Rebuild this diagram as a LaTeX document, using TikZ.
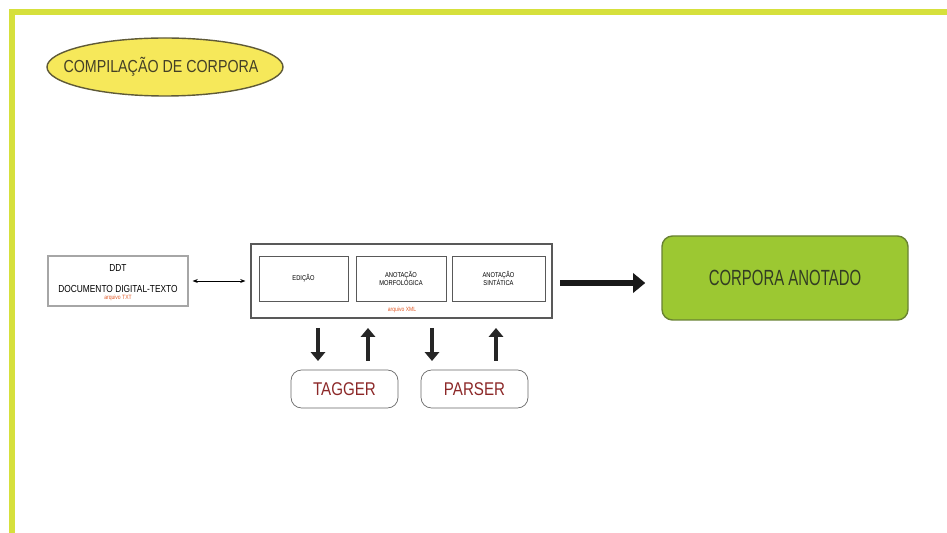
\documentclass[tikz,border=0pt]{standalone}
\usepackage{fontspec}
\setmainfont{Liberation Sans}[FakeStretch=0.82]
\newfontfamily\estreita{Liberation Sans}[FakeStretch=0.68]
\usetikzlibrary{arrows.meta}
\definecolor{framey}{RGB}{214,224,60}
\definecolor{ovaly}{RGB}{246,232,90}
\definecolor{ovalb}{RGB}{95,90,55}
\definecolor{greenbox}{RGB}{156,200,50}
\definecolor{greenb}{RGB}{105,130,50}
\definecolor{greentxt}{RGB}{50,60,35}
\definecolor{redtxt}{RGB}{140,40,40}
\definecolor{orangetxt}{RGB}{225,90,40}
\begin{document}
\begin{tikzpicture}[x=0.02cm,y=-0.02cm,
  box/.style={draw=black!65, line width=0.5pt, minimum height=45*0.02cm, align=center, font=\fontsize{4}{5}\selectfont},
  tool/.style={draw=black!60, rounded corners=6pt, minimum width=107*0.02cm, minimum height=38*0.02cm, text=redtxt, font=\fontsize{10.5}{12}\selectfont},
  fat/.style={line width=2.3pt, -{Triangle[length=5pt,width=8pt]}}]
\useasboundingbox (0,0) rectangle (947,533);
\draw[framey, line width=3pt] (12,560) -- (12,12) -- (960,12);
\draw[draw=ovalb, line width=0.8pt, fill=ovaly] (165,67) ellipse [x radius=118, y radius=29];
\node[text=ovalb!70!black, font=\fontsize{9.9}{11}\selectfont] (titulo) at (161,67) {COMPILAÇÃO DE CORPORA};

\node[draw=black!35, line width=0.6pt, minimum width=140*0.02cm, minimum height=50*0.02cm] (ddt) at (118,281) {};
\node[font=\fontsize{5.8}{6}\selectfont] (ddtsig) at (118,268) {DDT};
\node[font=\fontsize{5.8}{6}\selectfont] (ddtnome) at (118,289) {DOCUMENTO DIGITAL-TEXTO};
\node[font=\fontsize{3.5}{4}\selectfont, text=orangetxt] (txt) at (118,298) {arquivo TXT};

\node[draw=black!65, line width=0.6pt, minimum width=301*0.02cm, minimum height=74*0.02cm] (xml) at (401.5,281) {};
\node[box, minimum width=89*0.02cm] (edicao) at (303.5,278.5) {EDIÇÃO};
\node[box, minimum width=90*0.02cm] (morfo) at (401,278.5) {ANOTAÇÃO\\MORFOLÓGICA};
\node[box, minimum width=93*0.02cm] (sint) at (498.5,278.5) {ANOTAÇÃO\\SINTÁTICA};
\node[font=\fontsize{3.5}{4}\selectfont, text=orangetxt] (xmltxt) at (402,309.5) {arquivo XML};

\node[draw=greenb, line width=0.8pt, fill=greenbox, rounded corners=6pt, minimum width=246*0.02cm, minimum height=84*0.02cm, text=greentxt, font=\estreita\fontsize{12.5}{14}\selectfont] (anotado) at (785,278) {CORPORA ANOTADO};

\node[tool] (tagger) at (344.5,389) {TAGGER};
\node[tool] (parser) at (474.5,389) {PARSER};

\coordinate (d1) at (318,328);
\coordinate (u1) at (368,328);
\coordinate (d2) at (432,328);
\coordinate (u2) at (496,328);
\coordinate (d1b) at (318,361);
\coordinate (u1b) at (368,361);
\coordinate (d2b) at (432,361);
\coordinate (u2b) at (496,361);
\coordinate (seta) at (560,283);

\path[draw,line width=0.5pt,{Stealth[length=3pt]}-{Stealth[length=3pt]}] ([xshift=4*0.02cm]ddt.east) -- ([xshift=-5*0.02cm]xml.west);
\path[draw,line width=3pt,-{Triangle[length=7pt,width=11pt]},black!90] (seta) -- ([xshift=-16*0.02cm]seta -| anotado.west);
\path[draw,fat,black!85] (d1) -- (d1b);
\path[draw,fat,black!85] (u1b) -- (u1);
\path[draw,fat,black!85] (d2) -- (d2b);
\path[draw,fat,black!85] (u2b) -- (u2);
\end{tikzpicture}
\end{document}
